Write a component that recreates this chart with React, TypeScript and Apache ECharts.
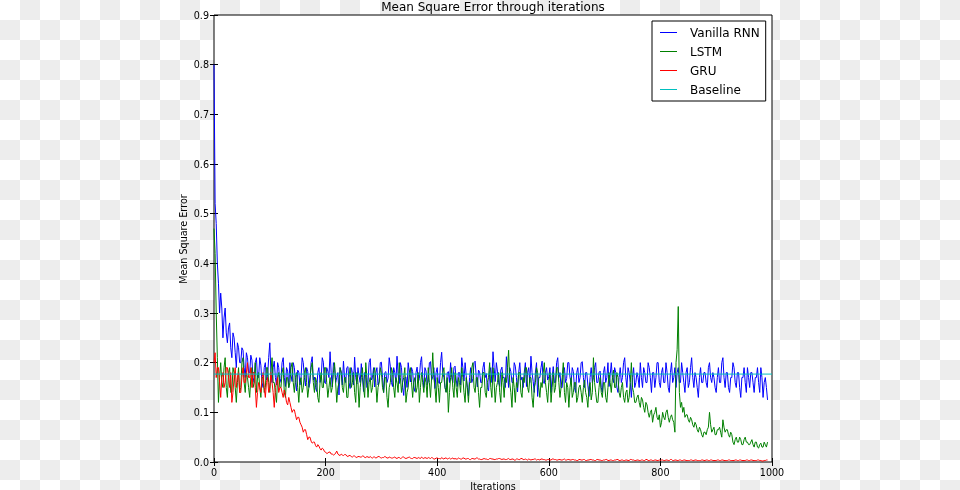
import React, { useEffect, useRef } from "react";
import * as echarts from "echarts";

const ITER_STEP = 2;
const seriesNames = ["Vanilla RNN", "LSTM", "GRU", "Baseline"];
const seriesColors = ["#0000ff", "#008000", "#ff0000", "#00bfbf"];

const vanillaRnn = [
  0.80,0.52,0.48,0.40,0.36,0.30,0.34,0.31,0.25,0.29,0.31,0.26,0.24,0.27,0.28,0.23,0.21,0.26,0.25,0.22,
  0.19,0.24,0.23,0.20,0.20,0.23,0.225,0.19,0.17,0.22,0.21,0.18,0.18,0.215,0.205,0.17,0.16,0.20,0.21,0.17,
  0.17,0.21,0.195,0.16,0.15,0.19,0.20,0.165,0.172,0.21,0.24,0.18,0.16,0.19,0.203,0.17,0.155,0.2,0.19,0.16,
  0.168,0.2,0.21,0.17,0.152,0.19,0.183,0.15,0.20,0.175,0.162,0.2,0.19,0.16,0.143,0.185,0.181,0.155,0.17,0.21,
  0.20,0.17,0.153,0.19,0.182,0.15,0.16,0.2,0.212,0.165,0.171,0.15,0.142,0.18,0.19,0.16,0.168,0.21,0.201,0.16,
  0.158,0.19,0.183,0.17,0.222,0.18,0.151,0.2,0.192,0.16,0.17,0.18,0.135,0.19,0.181,0.155,0.203,0.17,0.16,0.19,
  0.192,0.16,0.148,0.19,0.18,0.155,0.211,0.17,0.157,0.19,0.173,0.16,0.198,0.17,0.142,0.18,0.183,0.15,0.16,0.2,
  0.208,0.165,0.17,0.19,0.151,0.18,0.19,0.155,0.162,0.2,0.201,0.17,0.14,0.18,0.182,0.16,0.169,0.21,0.193,0.16,
  0.152,0.19,0.18,0.16,0.213,0.175,0.158,0.2,0.19,0.15,0.134,0.17,0.171,0.15,0.2,0.18,0.161,0.19,0.182,0.15,
  0.142,0.18,0.191,0.16,0.168,0.2,0.212,0.17,0.15,0.19,0.183,0.155,0.163,0.2,0.202,0.165,0.171,0.19,0.148,0.18,
  0.19,0.16,0.158,0.2,0.221,0.18,0.17,0.15,0.141,0.18,0.182,0.16,0.2,0.17,0.16,0.19,0.193,0.165,0.152,0.18,
  0.18,0.155,0.21,0.19,0.163,0.2,0.174,0.15,0.133,0.17,0.19,0.16,0.168,0.2,0.203,0.17,0.151,0.185,0.181,0.16,
  0.16,0.19,0.201,0.17,0.178,0.15,0.143,0.18,0.19,0.16,0.222,0.19,0.162,0.2,0.183,0.16,0.152,0.185,0.191,0.17,
  0.17,0.15,0.212,0.18,0.15,0.19,0.182,0.16,0.16,0.2,0.193,0.17,0.141,0.18,0.2,0.165,0.171,0.15,0.18,0.2,
  0.152,0.18,0.19,0.16,0.213,0.18,0.162,0.14,0.181,0.2,0.132,0.17,0.17,0.19,0.203,0.16,0.158,0.18,0.19,0.165,
  0.172,0.19,0.14,0.17,0.192,0.16,0.16,0.2,0.21,0.17,0.18,0.15,0.15,0.19,0.19,0.16,0.168,0.2,0.2,0.17,
  0.16,0.19,0.182,0.15,0.14,0.18,0.19,0.16,0.17,0.2,0.202,0.17,0.15,0.18,0.18,0.155,0.132,0.17,0.19,0.16,
  0.17,0.19,0.2,0.16,0.16,0.18,0.183,0.15,0.14,0.18,0.192,0.16,0.17,0.2,0.152,0.175,0.2,0.17,0.16,0.19,
  0.18,0.15,0.14,0.17,0.19,0.16,0.17,0.2,0.21,0.17,0.15,0.19,0.18,0.16,0.13,0.17,0.19,0.15,0.16,0.18,
  0.17,0.15,0.2,0.17,0.15,0.19,0.18,0.16,0.16,0.2,0.19,0.17,0.14,0.18,0.18,0.15,0.17,0.2,0.2,0.16,
  0.15,0.18,0.19,0.16,0.16,0.2,0.18,0.15,0.14,0.18,0.2,0.16,0.17,0.19,0.15,0.18,0.19,0.16,0.16,0.2,
  0.18,0.16,0.14,0.18,0.19,0.15,0.16,0.19,0.21,0.17,0.15,0.18,0.17,0.15,0.13,0.17,0.19,0.16,0.16,0.18,
  0.18,0.16,0.15,0.19,0.2,0.17,0.16,0.18,0.17,0.15,0.14,0.17,0.19,0.16,0.16,0.2,0.21,0.17,0.15,0.18,
  0.18,0.15,0.14,0.17,0.17,0.2,0.19,0.16,0.15,0.18,0.18,0.15,0.13,0.17,0.17,0.19,0.16,0.14,0.19,0.17,
  0.15,0.18,0.18,0.16,0.14,0.17,0.17,0.19,0.16,0.14,0.19,0.17,0.13,0.16,0.17,0.15,0.125,
];

const lstm = [
  0.47,0.42,0.30,0.21,0.12,0.17,0.20,0.16,0.15,0.19,0.21,0.15,0.13,0.18,0.19,0.14,0.14,0.19,0.18,0.15,
  0.12,0.16,0.19,0.14,0.15,0.2,0.21,0.16,0.14,0.18,0.17,0.15,0.13,0.17,0.19,0.15,0.16,0.2,0.14,0.17,
  0.18,0.15,0.13,0.17,0.17,0.14,0.15,0.19,0.19,0.16,0.14,0.18,0.21,0.16,0.16,0.14,0.12,0.17,0.18,0.15,
  0.15,0.18,0.19,0.14,0.13,0.17,0.17,0.15,0.16,0.19,0.2,0.16,0.14,0.17,0.18,0.15,0.12,0.16,0.17,0.14,
  0.15,0.18,0.19,0.16,0.13,0.15,0.17,0.19,0.2,0.16,0.14,0.17,0.16,0.13,0.12,0.16,0.18,0.15,0.15,0.19,
  0.19,0.16,0.13,0.15,0.17,0.14,0.15,0.18,0.2,0.16,0.12,0.15,0.16,0.19,0.18,0.15,0.14,0.17,0.17,0.13,
  0.13,0.17,0.19,0.15,0.16,0.18,0.14,0.12,0.18,0.16,0.11,0.15,0.17,0.19,0.15,0.13,0.2,0.17,0.13,0.16,
  0.17,0.14,0.15,0.18,0.19,0.16,0.12,0.15,0.16,0.19,0.18,0.15,0.14,0.17,0.17,0.13,0.11,0.15,0.16,0.19,
  0.18,0.15,0.13,0.17,0.16,0.14,0.2,0.17,0.14,0.16,0.17,0.19,0.12,0.14,0.15,0.18,0.19,0.16,0.13,0.16,
  0.17,0.14,0.15,0.18,0.12,0.15,0.18,0.16,0.14,0.17,0.16,0.13,0.19,0.16,0.13,0.17,0.22,0.17,0.15,0.12,
  0.17,0.15,0.12,0.16,0.16,0.18,0.19,0.15,0.14,0.17,0.10,0.14,0.17,0.19,0.15,0.13,0.18,0.15,0.13,0.17,
  0.16,0.14,0.19,0.17,0.14,0.12,0.17,0.15,0.12,0.16,0.16,0.19,0.2,0.15,0.14,0.17,0.17,0.14,0.11,0.15,
  0.15,0.18,0.18,0.14,0.13,0.16,0.17,0.2,0.15,0.13,0.19,0.16,0.12,0.15,0.16,0.18,0.14,0.12,0.18,0.16,
  0.13,0.17,0.16,0.19,0.225,0.16,0.14,0.11,0.17,0.15,0.12,0.16,0.15,0.18,0.18,0.14,0.13,0.17,0.16,0.19,
  0.19,0.15,0.14,0.17,0.17,0.13,0.11,0.15,0.16,0.19,0.18,0.15,0.13,0.16,0.15,0.18,0.2,0.16,0.14,0.12,
  0.16,0.18,0.12,0.15,0.18,0.14,0.15,0.19,0.19,0.16,0.13,0.15,0.17,0.2,0.14,0.12,0.16,0.15,0.11,0.15,
  0.17,0.13,0.14,0.16,0.16,0.12,0.13,0.15,0.155,0.14,0.12,0.15,0.165,0.14,0.13,0.11,0.15,0.16,0.125,0.14,
  0.21,0.16,0.14,0.12,0.12,0.15,0.17,0.14,0.13,0.16,0.16,0.13,0.12,0.15,0.18,0.16,0.14,0.17,0.185,0.15,
  0.15,0.18,0.17,0.14,0.13,0.15,0.16,0.13,0.12,0.14,0.145,0.12,0.13,0.16,0.2,0.15,0.14,0.12,0.12,0.13,
  0.135,0.12,0.11,0.13,0.125,0.11,0.1,0.12,0.115,0.1,0.09,0.1,0.105,0.08,0.095,0.1,0.11,0.09,0.085,0.095,
  0.07,0.08,0.1,0.09,0.085,0.1,0.105,0.09,0.08,0.09,0.095,0.085,0.08,0.06,0.2,0.226,0.313,0.14,0.11,0.12,
  0.1,0.11,0.09,0.095,0.095,0.085,0.08,0.09,0.085,0.075,0.07,0.08,0.075,0.065,0.06,0.07,0.065,0.055,0.05,0.06,
  0.06,0.055,0.065,0.07,0.1,0.075,0.06,0.065,0.07,0.055,0.055,0.065,0.065,0.07,0.06,0.05,0.085,0.07,0.06,0.065,
  0.065,0.055,0.05,0.06,0.055,0.04,0.035,0.045,0.05,0.04,0.04,0.05,0.045,0.035,0.035,0.045,0.05,0.04,0.04,0.035,
  0.035,0.04,0.045,0.035,0.03,0.04,0.04,0.03,0.028,0.035,0.038,0.03,0.03,0.04,0.035,0.03,0.04,
];

const gru = [
  0.20,0.22,0.17,0.19,0.19,0.16,0.13,0.17,0.18,0.15,0.16,0.19,0.19,0.17,0.15,0.18,0.12,0.14,0.17,0.19,
  0.15,0.17,0.18,0.14,0.14,0.17,0.19,0.16,0.16,0.18,0.20,0.17,0.17,0.19,0.15,0.18,0.18,0.15,0.11,0.14,
  0.16,0.15,0.14,0.17,0.18,0.15,0.13,0.16,0.17,0.14,0.15,0.18,0.16,0.14,0.11,0.15,0.16,0.17,0.14,0.15,
  0.15,0.14,0.13,0.145,0.135,0.12,0.115,0.13,0.12,0.11,0.10,0.105,0.105,0.095,0.085,0.09,0.09,0.08,0.075,0.07,
  0.06,0.065,0.065,0.055,0.045,0.05,0.05,0.042,0.038,0.04,0.04,0.033,0.03,0.035,0.032,0.027,0.024,0.028,0.026,0.021,
  0.02,0.017,0.018,0.02,0.02,0.016,0.016,0.014,0.015,0.018,0.022,0.016,0.014,0.013,0.016,0.014,0.013,0.015,0.015,0.012,
  0.011,0.013,0.013,0.011,0.01,0.012,0.012,0.01,0.009,0.011,0.011,0.01,0.01,0.012,0.012,0.009,0.009,0.011,0.01,0.009,
  0.011,0.009,0.008,0.01,0.01,0.008,0.009,0.011,0.011,0.009,0.008,0.009,0.009,0.011,0.01,0.008,0.008,0.01,0.009,0.008,
  0.008,0.009,0.01,0.008,0.007,0.009,0.009,0.007,0.008,0.01,0.01,0.008,0.007,0.008,0.009,0.01,0.008,0.007,0.007,0.009,
  0.009,0.008,0.007,0.009,0.008,0.007,0.01,0.008,0.007,0.009,0.008,0.007,0.009,0.008,0.007,0.009,0.008,0.006,0.006,0.008,
  0.008,0.007,0.007,0.006,0.009,0.007,0.006,0.008,0.008,0.006,0.007,0.008,0.006,0.007,0.008,0.006,0.007,0.006,0.006,0.008,
  0.007,0.006,0.006,0.008,0.008,0.006,0.006,0.007,0.007,0.005,0.005,0.007,0.007,0.006,0.006,0.008,0.008,0.006,0.006,0.005,
  0.005,0.006,0.007,0.006,0.006,0.005,0.005,0.007,0.007,0.006,0.006,0.005,0.005,0.006,0.006,0.007,0.007,0.006,0.005,0.006,
  0.006,0.005,0.005,0.006,0.007,0.005,0.005,0.006,0.006,0.004,0.004,0.006,0.006,0.005,0.005,0.007,0.007,0.005,0.005,0.006,
  0.005,0.004,0.006,0.005,0.004,0.005,0.005,0.006,0.006,0.004,0.005,0.005,0.004,0.006,0.006,0.005,0.005,0.004,0.004,0.005,
  0.005,0.004,0.004,0.006,0.006,0.005,0.005,0.004,0.004,0.005,0.005,0.004,0.004,0.005,0.006,0.004,0.004,0.005,0.005,0.004,
  0.004,0.005,0.005,0.004,0.004,0.003,0.003,0.005,0.005,0.004,0.004,0.005,0.005,0.003,0.003,0.004,0.004,0.005,0.005,0.004,
  0.004,0.003,0.003,0.005,0.005,0.004,0.004,0.003,0.003,0.004,0.004,0.005,0.005,0.003,0.003,0.004,0.004,0.003,0.003,0.004,
  0.004,0.005,0.005,0.003,0.003,0.004,0.004,0.003,0.003,0.004,0.004,0.003,0.003,0.005,0.005,0.004,0.004,0.003,0.003,0.004,
  0.004,0.003,0.003,0.004,0.004,0.003,0.003,0.005,0.005,0.003,0.003,0.004,0.004,0.003,0.003,0.004,0.004,0.003,0.003,0.004,
  0.003,0.004,0.004,0.003,0.003,0.004,0.004,0.003,0.003,0.005,0.005,0.003,0.003,0.004,0.004,0.003,0.003,0.004,0.004,0.003,
  0.003,0.004,0.004,0.003,0.003,0.003,0.003,0.004,0.004,0.003,0.003,0.004,0.004,0.003,0.003,0.003,0.003,0.004,0.004,0.003,
  0.003,0.004,0.004,0.003,0.003,0.004,0.004,0.003,0.003,0.003,0.003,0.004,0.004,0.003,0.003,0.004,0.004,0.003,0.003,0.003,
  0.003,0.004,0.004,0.003,0.003,0.003,0.003,0.004,0.004,0.003,0.003,0.004,0.004,0.003,0.003,0.003,0.003,0.004,0.004,0.003,
  0.003,0.004,0.004,0.003,0.003,0.003,0.003,0.004,0.004,0.003,0.003,0.002,0.002,0.003,0.003,0.004,0.004,
];

const baselineValue = 0.177;
const baselineRange = [0, 1000];

const X_MIN = 0, X_MAX = 1000, X_INTERVAL = 200;
const Y_MIN = 0, Y_MAX = 0.9, Y_INTERVAL = 0.1;

const FONT = "DejaVu Sans";

function toPairs(arr: number[]) {
  return arr.map((v, i) => [i * ITER_STEP, v]);
}

export default function App() {
  const ref = useRef<HTMLDivElement>(null);
  useEffect(() => {
    if (!ref.current) return;
    const chart = echarts.init(ref.current, null, { renderer: "svg" });
    const tickCommon = {
      axisLine: { show: false },
      splitLine: { show: false },
      axisTick: { show: true, inside: true, length: 4, lineStyle: { color: "#000", width: 1 } },
    };
    const option: any = {
      animation: false,
      backgroundColor: "transparent",
      textStyle: { fontFamily: FONT },
      grid: {
        left: 214,
        top: 15,
        width: 558,
        height: 447,
        show: true,
        backgroundColor: "#ffffff",
        borderColor: "#000",
        borderWidth: 1,
      },
      legend: {
        orient: "vertical",
        left: 652,
        top: 21,
        padding: [5, 6, 5, 8],
        itemWidth: 17,
        itemHeight: 1,
        itemGap: 6,
        backgroundColor: "#fff",
        borderColor: "#000",
        borderWidth: 1,
        borderRadius: 0,
        itemStyle: { borderWidth: 0 },
        data: seriesNames.map((n, i) => ({
          name: n,
          icon: "rect",
          itemStyle: { color: seriesColors[i], borderWidth: 0, opacity: 1 },
        })),
        textStyle: { fontFamily: FONT, fontSize: 12, lineHeight: 13, color: "#000", padding: [0, 0, 0, 8] },
      },
      xAxis: [
        {
          type: "value",
          min: X_MIN,
          max: X_MAX,
          interval: X_INTERVAL,
          position: "bottom",
          ...tickCommon,
          axisLabel: { show: true, margin: 5, color: "#000", fontFamily: FONT, fontSize: 9.6, formatter: (v: number) => String(v) },
        },
        {
          type: "value",
          min: X_MIN,
          max: X_MAX,
          interval: X_INTERVAL,
          position: "top",
          ...tickCommon,
          axisLabel: { show: false },
        },
      ],
      yAxis: [
        {
          type: "value",
          min: Y_MIN,
          max: Y_MAX,
          interval: Y_INTERVAL,
          position: "left",
          ...tickCommon,
          axisLabel: { show: true, margin: 5, color: "#000", fontFamily: FONT, fontSize: 9.6, formatter: (v: number) => v.toFixed(1) },
        },
        {
          type: "value",
          min: Y_MIN,
          max: Y_MAX,
          interval: Y_INTERVAL,
          position: "right",
          ...tickCommon,
          axisLabel: { show: false },
        },
      ],
      graphic: [
        {
          type: "text",
          x: 493,
          y: 7,
          style: { text: "Mean Square Error through iterations", fontFamily: FONT, fontSize: 12, fill: "#000", textAlign: "center", textVerticalAlign: "middle" },
        },
        {
          type: "text",
          x: 493,
          y: 486,
          style: { text: "Iterations", fontFamily: FONT, fontSize: 9.6, fill: "#000", textAlign: "center", textVerticalAlign: "middle" },
        },
        {
          type: "text",
          x: 183,
          y: 239,
          rotation: Math.PI / 2,
          style: { text: "Mean Square Error", fontFamily: FONT, fontSize: 9.6, fill: "#000", textAlign: "center", textVerticalAlign: "middle" },
        },
      ],
      series: [
        { name: seriesNames[0], data: toPairs(vanillaRnn), color: seriesColors[0] },
        { name: seriesNames[1], data: toPairs(lstm), color: seriesColors[1] },
        { name: seriesNames[2], data: toPairs(gru), color: seriesColors[2] },
        { name: seriesNames[3], data: baselineRange.map((x) => [x, baselineValue]), color: seriesColors[3] },
      ].map((s) => ({
        ...s,
        type: "line",
        xAxisIndex: 0,
        yAxisIndex: 0,
        symbol: "none",
        showSymbol: false,
        lineStyle: { width: 1, color: s.color },
        itemStyle: { color: s.color },
        emphasis: { disabled: true },
      })),
    };
    chart.setOption(option);
    return () => chart.dispose();
  }, []);
  return (
    <div
      style={{
        position: "fixed",
        left: 0,
        top: 0,
        width: 960,
        height: 490,
        background: "repeating-conic-gradient(#ededed 0% 25%, #ffffff 0% 50%) 0 0 / 40px 40px",
      }}
    >
      <div ref={ref} style={{ width: 960, height: 490 }} />
    </div>
  );
}
